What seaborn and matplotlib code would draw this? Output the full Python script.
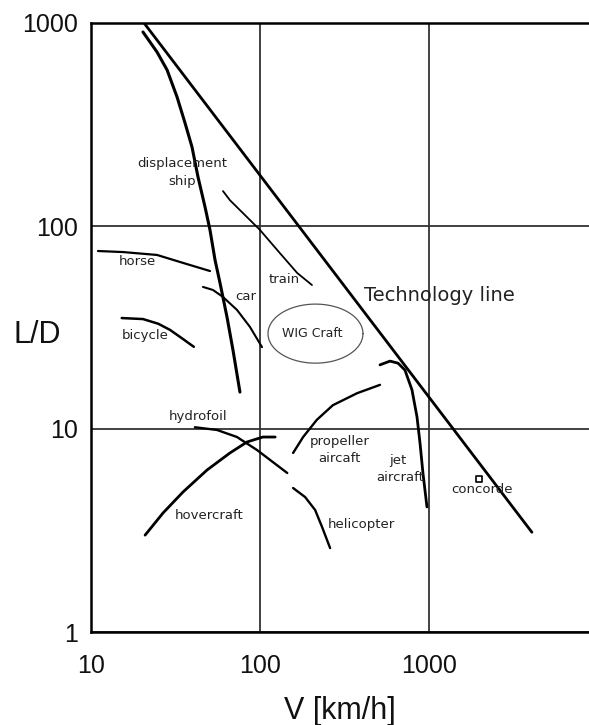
import matplotlib
matplotlib.use('Agg')
import matplotlib.pyplot as plt
import seaborn as sns
import numpy as np
import pandas as pd

# speed V [km/h] and lift/drag L/D
tech_v = [20.6, 4065]
tech_ld = [1000, 3.1]

ship_v = [20.3, 24.6, 28.2, 32.3, 36.0, 39.6, 43.0, 47.3, 50.6, 54.2, 58.0, 63.8, 69.2, 76.1]
ship_ld = [903, 719, 587, 432, 322, 245, 174, 124, 95.6, 68.0, 52.4, 35.6, 24.5, 15.2]

horse_v = [11.0, 15.5, 24.6, 33.6, 50.6]
horse_ld = [75.3, 74.4, 72.0, 66.5, 60.0]

bicycle_v = [15.2, 20.3, 25.0, 29.3, 34.5, 40.6]
bicycle_ld = [35.2, 34.8, 33.0, 30.8, 28.0, 25.4]

car_v = [46.0, 52.7, 60.4, 73.1, 87.3, 102.8]
car_ld = [50.1, 48.4, 44.7, 38.6, 31.8, 25.3]

train_v = [60.4, 66.4, 100, 131, 166, 203]
train_ld = [148.6, 134, 95.6, 73.6, 58.7, 51.2]

jet_v = [513, 588, 656, 721, 793, 849, 885, 921, 973]
jet_ld = [20.7, 21.6, 21.1, 19.5, 15.6, 11.5, 8.53, 6.07, 4.13]

prop_v = [513, 375, 270, 217, 180, 157]
prop_ld = [16.5, 15.0, 13.1, 11.1, 9.13, 7.62]

heli_v = [157, 185, 212, 233, 260]
heli_ld = [5.12, 4.62, 3.99, 3.29, 2.59]

hydro_v = [41.2, 55.7, 73.1, 96.0, 119, 145]
hydro_ld = [10.2, 9.89, 9.13, 7.88, 6.88, 6.07]

hover_v = [20.9, 26.7, 35.0, 48.6, 66.4, 83.8, 104, 123]
hover_ld = [3.0, 3.86, 4.89, 6.28, 7.62, 8.63, 9.13, 9.13]

concorde_v = [1977]
concorde_ld = [5.68]

# WIG craft region: centre and span (in decades)
wig_center = (213, 29.5)
wig_span = (0.562, 0.291)

curves = [
    ("tech", tech_v, tech_ld, 2.0),
    ("ship", ship_v, ship_ld, 2.2),
    ("horse", horse_v, horse_ld, 1.6),
    ("bicycle", bicycle_v, bicycle_ld, 1.8),
    ("car", car_v, car_ld, 1.5),
    ("train", train_v, train_ld, 1.3),
    ("jet", jet_v, jet_ld, 2.0),
    ("prop", prop_v, prop_ld, 1.7),
    ("heli", heli_v, heli_ld, 1.7),
    ("hydro", hydro_v, hydro_ld, 1.7),
    ("hover", hover_v, hover_ld, 2.0),
]

sns.set_style("white")
plt.rcParams['font.family'] = ['Liberation Sans', 'DejaVu Sans']

fig = plt.figure(figsize=(5.89, 7.25), dpi=100)
ax = fig.add_axes([91/589, 93/725, 498/589, 609/725])

for name, v, ld, lw in curves:
    df = pd.DataFrame({'V': v, 'LD': ld})
    sns.lineplot(data=df, x='V', y='LD', sort=False, estimator=None,
                 color='black', lw=lw, ax=ax,
                 solid_joinstyle='round', solid_capstyle='round')

sns.scatterplot(x=concorde_v, y=concorde_ld, marker='s', s=22,
                facecolor='white', edgecolor='black', linewidth=1.2, ax=ax)

# WIG ellipse drawn in log space
t = np.linspace(0, 2*np.pi, 200)
ex = 10**(np.log10(wig_center[0]) + wig_span[0]/2*np.cos(t))
ey = 10**(np.log10(wig_center[1]) + wig_span[1]/2*np.sin(t))
ax.plot(ex, ey, color='#555555', lw=0.9)

ax.set_xscale('log')
ax.set_yscale('log')
ax.set_xlim(10, 8850)
ax.set_ylim(1, 1000)
ax.set_xticks([10, 100, 1000])
ax.set_xticklabels(['10', '100', '1000'])
ax.set_yticks([1, 10, 100, 1000])
ax.set_yticklabels(['1', '10', '100', '1000'])
ax.minorticks_off()
ax.tick_params(length=0, labelsize=18, labelcolor='#111111')
ax.tick_params(axis='x', pad=16)
ax.tick_params(axis='y', pad=9)
ax.grid(True, color='#333333', lw=1.3)
for s in ['left', 'bottom', 'top']:
    ax.spines[s].set_color('black')
    ax.spines[s].set_linewidth(1.8)
ax.spines['right'].set_visible(False)

ax.set_xlabel('V [km/h]', fontsize=22, labelpad=13, color='#111111')
ax.set_ylabel('L/D', fontsize=22, rotation=0, ha='center', va='center', color='#111111')
ax.yaxis.set_label_coords(-0.108, 0.488)

small = dict(fontsize=9.5, family=['DejaVu Sans'], ha='center', va='center', color='#222222')
ax.text(34.5, 204, 'displacement', **small)
ax.text(34.5, 165, 'ship', **small)
ax.text(18.7, 66.5, 'horse', **small)
ax.text(82.6, 44.7, 'car', **small)
ax.text(20.9, 29.0, 'bicycle', **small)
ax.text(140, 54.2, 'train', **small)
ax.text(203, 29.7, 'WIG Craft', **dict(small, fontsize=9))
ax.text(43, 11.5, 'hydrofoil', **small)
ax.text(49.9, 3.77, 'hovercraft', **small)
ax.text(297, 8.63, 'propeller', **small)
ax.text(294, 7.19, 'aircaft', **small)
ax.text(656, 7.03, 'jet', **small)
ax.text(673, 5.74, 'aircraft', **small)
ax.text(2061, 5.01, 'concorde', **small)
ax.text(396, 3.37, 'helicopter', **small)
ax.text(1146, 45.7, 'Technology line', fontsize=14, ha='center', va='center',
        family=['DejaVu Sans'], color='#222222')

fig.savefig('out.png', dpi=100)
